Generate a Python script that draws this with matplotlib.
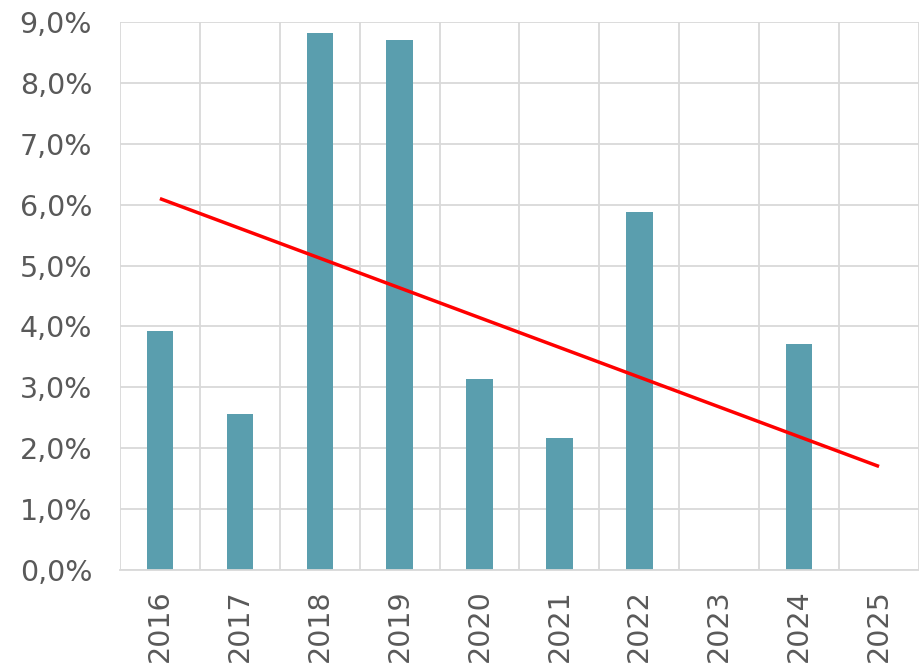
import numpy as np
import matplotlib.pyplot as plt
from matplotlib.ticker import FuncFormatter, MultipleLocator

# Dados
anos = ["2016", "2017", "2018", "2019", "2020", "2021", "2022", "2023", "2024", "2025"]
valores = [3.92, 2.57, 8.82, 8.70, 3.13, 2.17, 5.88, np.nan, 3.71, np.nan]

# Linha de tendência (início e fim)
tendencia_anos = ["2016", "2025"]
tendencia_valores = [6.10, 1.70]

cor_barra = "#5a9eae"
cor_grade = "#d9d9d9"
cor_texto = "#595959"

fig = plt.figure(figsize=(9.2, 6.63), dpi=100)
ax = fig.add_axes([0.1304, 0.1403, 0.8685, 0.8265])

x = np.arange(len(anos))
ax.bar(x, valores, width=0.33, color=cor_barra, zorder=2)

tx = [anos.index(a) for a in tendencia_anos]
ax.plot(tx, tendencia_valores, color="#ff0000", linewidth=2.5, zorder=3,
        solid_capstyle="butt")

ax.set_xlim(-0.5, len(anos) - 0.5)
ax.set_ylim(0, 9)

ax.yaxis.set_major_locator(MultipleLocator(1))
ax.yaxis.set_major_formatter(FuncFormatter(lambda v, p: f"{v:.1f}%".replace(".", ",")))

ax.set_xticks(x)
ax.set_xticklabels(anos, rotation=90)
ax.set_xticks(np.arange(-0.5, len(anos)), minor=True)

ax.grid(axis="y", which="major", color=cor_grade, linewidth=1.3, zorder=0)
ax.grid(axis="x", which="minor", color=cor_grade, linewidth=1.3, zorder=0)
ax.grid(axis="x", which="major", visible=False)

for s in ["top", "right", "left"]:
    ax.spines[s].set_visible(False)
ax.spines["bottom"].set_color(cor_grade)
ax.spines["bottom"].set_linewidth(1.3)

ax.tick_params(axis="both", which="both", length=0, labelsize=20.5, colors=cor_texto)
ax.tick_params(axis="y", pad=20)
ax.tick_params(axis="x", pad=14)

plt.savefig("out.png", dpi=100, facecolor="white")
